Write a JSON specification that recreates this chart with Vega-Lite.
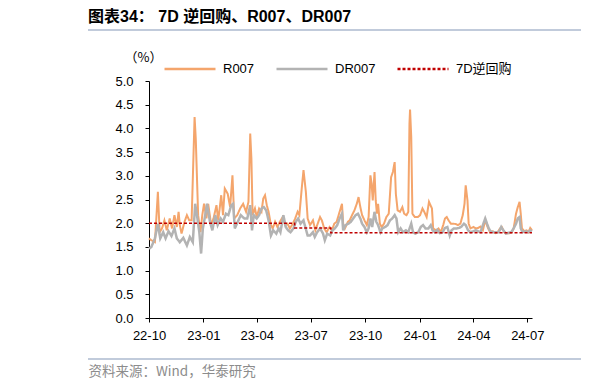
{
  "$schema": "https://vega.github.io/schema/vega-lite/v6.json",
  "autosize": {"type": "none"},
  "padding": {"left": 149, "top": 81, "right": 83, "bottom": 71},
  "width": 383,
  "height": 237,
  "background": "#ffffff",
  "config": {"view": {"stroke": null}, "font": "Liberation Sans"},
  "title": {
    "text": "图表34： 7D 逆回购、R007、DR007",
    "anchor": "start",
    "frame": "group",
    "dx": -61,
    "offset": 4,
    "font": "Liberation Sans, Noto Sans CJK SC",
    "fontSize": 16,
    "fontWeight": "bold",
    "color": "#000000"
  },
  "datasets": {
    "rates": [
      {"s":"R007","d":"2022-10-01","v":1.68},{"s":"R007","d":"2022-10-05","v":1.64},{"s":"R007","d":"2022-10-11","v":1.60},{"s":"R007","d":"2022-10-16","v":2.66},{"s":"R007","d":"2022-10-19","v":1.81},{"s":"R007","d":"2022-10-23","v":1.89},{"s":"R007","d":"2022-10-27","v":2.06},{"s":"R007","d":"2022-10-31","v":1.85},{"s":"R007","d":"2022-11-05","v":2.10},{"s":"R007","d":"2022-11-09","v":1.89},{"s":"R007","d":"2022-11-13","v":2.17},{"s":"R007","d":"2022-11-17","v":1.92},{"s":"R007","d":"2022-11-20","v":2.24},{"s":"R007","d":"2022-11-22","v":1.96},{"s":"R007","d":"2022-11-25","v":1.78},{"s":"R007","d":"2022-11-30","v":2.03},{"s":"R007","d":"2022-12-04","v":2.17},{"s":"R007","d":"2022-12-08","v":2.06},{"s":"R007","d":"2022-12-12","v":2.06},{"s":"R007","d":"2022-12-17","v":4.24},{"s":"R007","d":"2022-12-19","v":3.78},{"s":"R007","d":"2022-12-23","v":2.17},{"s":"R007","d":"2022-12-27","v":1.81},{"s":"R007","d":"2022-12-30","v":2.17},{"s":"R007","d":"2023-01-02","v":2.41},{"s":"R007","d":"2023-01-06","v":2.10},{"s":"R007","d":"2023-01-09","v":2.41},{"s":"R007","d":"2023-01-14","v":1.96},{"s":"R007","d":"2023-01-18","v":2.10},{"s":"R007","d":"2023-01-23","v":2.38},{"s":"R007","d":"2023-01-26","v":2.06},{"s":"R007","d":"2023-01-31","v":2.59},{"s":"R007","d":"2023-02-03","v":2.17},{"s":"R007","d":"2023-02-06","v":2.73},{"s":"R007","d":"2023-02-11","v":2.62},{"s":"R007","d":"2023-02-15","v":2.34},{"s":"R007","d":"2023-02-19","v":3.01},{"s":"R007","d":"2023-02-22","v":2.10},{"s":"R007","d":"2023-02-27","v":2.17},{"s":"R007","d":"2023-03-04","v":2.31},{"s":"R007","d":"2023-03-09","v":2.41},{"s":"R007","d":"2023-03-14","v":2.24},{"s":"R007","d":"2023-03-18","v":2.45},{"s":"R007","d":"2023-03-21","v":3.89},{"s":"R007","d":"2023-03-23","v":3.36},{"s":"R007","d":"2023-03-25","v":2.17},{"s":"R007","d":"2023-03-29","v":2.31},{"s":"R007","d":"2023-04-01","v":2.13},{"s":"R007","d":"2023-04-05","v":2.31},{"s":"R007","d":"2023-04-09","v":2.24},{"s":"R007","d":"2023-04-12","v":2.52},{"s":"R007","d":"2023-04-15","v":2.59},{"s":"R007","d":"2023-04-18","v":2.38},{"s":"R007","d":"2023-04-21","v":2.24},{"s":"R007","d":"2023-04-25","v":1.96},{"s":"R007","d":"2023-04-28","v":1.89},{"s":"R007","d":"2023-05-02","v":2.03},{"s":"R007","d":"2023-05-06","v":1.92},{"s":"R007","d":"2023-05-10","v":2.03},{"s":"R007","d":"2023-05-15","v":2.13},{"s":"R007","d":"2023-05-19","v":1.96},{"s":"R007","d":"2023-05-23","v":1.99},{"s":"R007","d":"2023-05-27","v":1.89},{"s":"R007","d":"2023-06-01","v":1.99},{"s":"R007","d":"2023-06-05","v":2.10},{"s":"R007","d":"2023-06-09","v":2.24},{"s":"R007","d":"2023-06-12","v":2.17},{"s":"R007","d":"2023-06-16","v":2.73},{"s":"R007","d":"2023-06-19","v":3.12},{"s":"R007","d":"2023-06-23","v":2.66},{"s":"R007","d":"2023-06-26","v":2.10},{"s":"R007","d":"2023-06-30","v":1.96},{"s":"R007","d":"2023-07-05","v":2.06},{"s":"R007","d":"2023-07-09","v":1.85},{"s":"R007","d":"2023-07-13","v":1.99},{"s":"R007","d":"2023-07-17","v":2.13},{"s":"R007","d":"2023-07-20","v":2.06},{"s":"R007","d":"2023-07-24","v":1.89},{"s":"R007","d":"2023-07-28","v":1.81},{"s":"R007","d":"2023-08-02","v":1.92},{"s":"R007","d":"2023-08-06","v":1.85},{"s":"R007","d":"2023-08-10","v":1.99},{"s":"R007","d":"2023-08-14","v":2.03},{"s":"R007","d":"2023-08-19","v":2.24},{"s":"R007","d":"2023-08-23","v":2.41},{"s":"R007","d":"2023-08-25","v":1.99},{"s":"R007","d":"2023-08-28","v":1.89},{"s":"R007","d":"2023-09-02","v":2.03},{"s":"R007","d":"2023-09-05","v":2.06},{"s":"R007","d":"2023-09-09","v":2.17},{"s":"R007","d":"2023-09-13","v":2.27},{"s":"R007","d":"2023-09-17","v":2.41},{"s":"R007","d":"2023-09-20","v":2.55},{"s":"R007","d":"2023-09-23","v":2.34},{"s":"R007","d":"2023-09-26","v":2.17},{"s":"R007","d":"2023-09-30","v":2.06},{"s":"R007","d":"2023-10-04","v":1.96},{"s":"R007","d":"2023-10-07","v":2.13},{"s":"R007","d":"2023-10-10","v":3.01},{"s":"R007","d":"2023-10-12","v":2.84},{"s":"R007","d":"2023-10-14","v":2.48},{"s":"R007","d":"2023-10-17","v":3.08},{"s":"R007","d":"2023-10-19","v":2.48},{"s":"R007","d":"2023-10-21","v":2.20},{"s":"R007","d":"2023-10-23","v":2.41},{"s":"R007","d":"2023-10-26","v":1.99},{"s":"R007","d":"2023-10-29","v":1.92},{"s":"R007","d":"2023-11-02","v":1.99},{"s":"R007","d":"2023-11-06","v":2.13},{"s":"R007","d":"2023-11-10","v":2.20},{"s":"R007","d":"2023-11-14","v":2.97},{"s":"R007","d":"2023-11-17","v":3.08},{"s":"R007","d":"2023-11-20","v":3.29},{"s":"R007","d":"2023-11-22","v":2.62},{"s":"R007","d":"2023-11-25","v":2.27},{"s":"R007","d":"2023-11-29","v":2.24},{"s":"R007","d":"2023-12-03","v":2.34},{"s":"R007","d":"2023-12-06","v":2.20},{"s":"R007","d":"2023-12-10","v":2.17},{"s":"R007","d":"2023-12-13","v":2.24},{"s":"R007","d":"2023-12-15","v":4.10},{"s":"R007","d":"2023-12-16","v":4.40},{"s":"R007","d":"2023-12-18","v":3.82},{"s":"R007","d":"2023-12-20","v":2.20},{"s":"R007","d":"2023-12-24","v":2.13},{"s":"R007","d":"2023-12-29","v":2.13},{"s":"R007","d":"2024-01-02","v":2.17},{"s":"R007","d":"2024-01-06","v":2.31},{"s":"R007","d":"2024-01-09","v":2.24},{"s":"R007","d":"2024-01-13","v":2.13},{"s":"R007","d":"2024-01-17","v":2.45},{"s":"R007","d":"2024-01-22","v":2.31},{"s":"R007","d":"2024-01-24","v":1.89},{"s":"R007","d":"2024-01-29","v":1.85},{"s":"R007","d":"2024-02-02","v":1.89},{"s":"R007","d":"2024-02-06","v":1.81},{"s":"R007","d":"2024-02-10","v":1.96},{"s":"R007","d":"2024-02-13","v":2.10},{"s":"R007","d":"2024-02-16","v":2.13},{"s":"R007","d":"2024-02-19","v":2.06},{"s":"R007","d":"2024-02-23","v":1.99},{"s":"R007","d":"2024-02-27","v":1.99},{"s":"R007","d":"2024-03-03","v":1.98},{"s":"R007","d":"2024-03-06","v":1.96},{"s":"R007","d":"2024-03-10","v":1.99},{"s":"R007","d":"2024-03-14","v":2.17},{"s":"R007","d":"2024-03-17","v":2.41},{"s":"R007","d":"2024-03-19","v":2.80},{"s":"R007","d":"2024-03-22","v":2.48},{"s":"R007","d":"2024-03-24","v":1.99},{"s":"R007","d":"2024-03-27","v":1.89},{"s":"R007","d":"2024-04-01","v":1.92},{"s":"R007","d":"2024-04-05","v":1.89},{"s":"R007","d":"2024-04-09","v":1.90},{"s":"R007","d":"2024-04-13","v":1.93},{"s":"R007","d":"2024-04-17","v":1.85},{"s":"R007","d":"2024-04-21","v":2.06},{"s":"R007","d":"2024-04-25","v":1.92},{"s":"R007","d":"2024-04-29","v":1.81},{"s":"R007","d":"2024-05-04","v":1.83},{"s":"R007","d":"2024-05-08","v":1.79},{"s":"R007","d":"2024-05-12","v":1.81},{"s":"R007","d":"2024-05-16","v":1.89},{"s":"R007","d":"2024-05-19","v":1.92},{"s":"R007","d":"2024-05-23","v":1.81},{"s":"R007","d":"2024-05-27","v":1.79},{"s":"R007","d":"2024-06-01","v":1.79},{"s":"R007","d":"2024-06-05","v":1.81},{"s":"R007","d":"2024-06-08","v":1.89},{"s":"R007","d":"2024-06-12","v":2.20},{"s":"R007","d":"2024-06-15","v":2.34},{"s":"R007","d":"2024-06-18","v":2.45},{"s":"R007","d":"2024-06-20","v":2.20},{"s":"R007","d":"2024-06-22","v":1.89},{"s":"R007","d":"2024-06-26","v":1.83},{"s":"R007","d":"2024-06-30","v":1.85},{"s":"R007","d":"2024-07-03","v":1.81},{"s":"R007","d":"2024-07-06","v":1.90},{"s":"R007","d":"2024-07-09","v":1.85},
      {"s":"DR007","d":"2022-10-01","v":1.46},{"s":"DR007","d":"2022-10-05","v":1.50},{"s":"DR007","d":"2022-10-11","v":1.68},{"s":"DR007","d":"2022-10-16","v":1.99},{"s":"DR007","d":"2022-10-20","v":1.68},{"s":"DR007","d":"2022-10-25","v":1.81},{"s":"DR007","d":"2022-10-29","v":1.68},{"s":"DR007","d":"2022-11-03","v":1.83},{"s":"DR007","d":"2022-11-08","v":1.73},{"s":"DR007","d":"2022-11-13","v":1.89},{"s":"DR007","d":"2022-11-17","v":1.68},{"s":"DR007","d":"2022-11-22","v":1.60},{"s":"DR007","d":"2022-11-28","v":1.69},{"s":"DR007","d":"2022-12-04","v":1.53},{"s":"DR007","d":"2022-12-09","v":1.71},{"s":"DR007","d":"2022-12-14","v":1.60},{"s":"DR007","d":"2022-12-18","v":2.41},{"s":"DR007","d":"2022-12-21","v":2.17},{"s":"DR007","d":"2022-12-25","v":1.81},{"s":"DR007","d":"2022-12-28","v":1.36},{"s":"DR007","d":"2022-12-31","v":1.89},{"s":"DR007","d":"2023-01-04","v":2.17},{"s":"DR007","d":"2023-01-07","v":2.41},{"s":"DR007","d":"2023-01-12","v":2.03},{"s":"DR007","d":"2023-01-16","v":1.85},{"s":"DR007","d":"2023-01-21","v":2.17},{"s":"DR007","d":"2023-01-25","v":1.96},{"s":"DR007","d":"2023-01-30","v":2.10},{"s":"DR007","d":"2023-02-03","v":2.03},{"s":"DR007","d":"2023-02-08","v":2.20},{"s":"DR007","d":"2023-02-12","v":2.17},{"s":"DR007","d":"2023-02-17","v":2.38},{"s":"DR007","d":"2023-02-20","v":2.41},{"s":"DR007","d":"2023-02-23","v":1.89},{"s":"DR007","d":"2023-02-28","v":2.03},{"s":"DR007","d":"2023-03-05","v":2.17},{"s":"DR007","d":"2023-03-11","v":2.10},{"s":"DR007","d":"2023-03-16","v":2.10},{"s":"DR007","d":"2023-03-21","v":2.38},{"s":"DR007","d":"2023-03-24","v":1.85},{"s":"DR007","d":"2023-03-27","v":2.17},{"s":"DR007","d":"2023-04-01","v":2.10},{"s":"DR007","d":"2023-04-05","v":2.17},{"s":"DR007","d":"2023-04-09","v":2.31},{"s":"DR007","d":"2023-04-13","v":2.34},{"s":"DR007","d":"2023-04-17","v":2.27},{"s":"DR007","d":"2023-04-21","v":2.06},{"s":"DR007","d":"2023-04-25","v":1.74},{"s":"DR007","d":"2023-04-29","v":1.85},{"s":"DR007","d":"2023-05-04","v":1.78},{"s":"DR007","d":"2023-05-08","v":1.89},{"s":"DR007","d":"2023-05-11","v":1.81},{"s":"DR007","d":"2023-05-16","v":2.17},{"s":"DR007","d":"2023-05-20","v":1.92},{"s":"DR007","d":"2023-05-24","v":1.85},{"s":"DR007","d":"2023-05-28","v":1.81},{"s":"DR007","d":"2023-06-02","v":1.89},{"s":"DR007","d":"2023-06-06","v":2.03},{"s":"DR007","d":"2023-06-10","v":2.10},{"s":"DR007","d":"2023-06-14","v":1.99},{"s":"DR007","d":"2023-06-19","v":2.06},{"s":"DR007","d":"2023-06-22","v":1.92},{"s":"DR007","d":"2023-06-26","v":1.74},{"s":"DR007","d":"2023-06-30","v":1.74},{"s":"DR007","d":"2023-07-05","v":1.81},{"s":"DR007","d":"2023-07-08","v":1.71},{"s":"DR007","d":"2023-07-12","v":1.81},{"s":"DR007","d":"2023-07-17","v":1.89},{"s":"DR007","d":"2023-07-22","v":1.78},{"s":"DR007","d":"2023-07-25","v":1.64},{"s":"DR007","d":"2023-07-29","v":1.78},{"s":"DR007","d":"2023-08-03","v":1.74},{"s":"DR007","d":"2023-08-07","v":1.85},{"s":"DR007","d":"2023-08-11","v":1.89},{"s":"DR007","d":"2023-08-15","v":1.96},{"s":"DR007","d":"2023-08-19","v":2.10},{"s":"DR007","d":"2023-08-23","v":2.20},{"s":"DR007","d":"2023-08-25","v":1.85},{"s":"DR007","d":"2023-08-29","v":1.96},{"s":"DR007","d":"2023-09-03","v":1.99},{"s":"DR007","d":"2023-09-07","v":2.03},{"s":"DR007","d":"2023-09-11","v":2.10},{"s":"DR007","d":"2023-09-15","v":2.17},{"s":"DR007","d":"2023-09-19","v":2.20},{"s":"DR007","d":"2023-09-23","v":2.10},{"s":"DR007","d":"2023-09-26","v":1.99},{"s":"DR007","d":"2023-09-30","v":1.92},{"s":"DR007","d":"2023-10-04","v":1.81},{"s":"DR007","d":"2023-10-07","v":1.89},{"s":"DR007","d":"2023-10-10","v":2.10},{"s":"DR007","d":"2023-10-13","v":1.92},{"s":"DR007","d":"2023-10-17","v":2.24},{"s":"DR007","d":"2023-10-20","v":2.03},{"s":"DR007","d":"2023-10-23","v":1.96},{"s":"DR007","d":"2023-10-27","v":1.81},{"s":"DR007","d":"2023-10-30","v":1.89},{"s":"DR007","d":"2023-11-04","v":1.92},{"s":"DR007","d":"2023-11-08","v":1.96},{"s":"DR007","d":"2023-11-12","v":2.06},{"s":"DR007","d":"2023-11-16","v":2.10},{"s":"DR007","d":"2023-11-20","v":2.17},{"s":"DR007","d":"2023-11-23","v":2.10},{"s":"DR007","d":"2023-11-26","v":1.81},{"s":"DR007","d":"2023-11-30","v":1.89},{"s":"DR007","d":"2023-12-04","v":1.81},{"s":"DR007","d":"2023-12-09","v":1.85},{"s":"DR007","d":"2023-12-13","v":1.81},{"s":"DR007","d":"2023-12-18","v":1.99},{"s":"DR007","d":"2023-12-21","v":1.81},{"s":"DR007","d":"2023-12-25","v":1.78},{"s":"DR007","d":"2023-12-30","v":1.81},{"s":"DR007","d":"2024-01-03","v":1.92},{"s":"DR007","d":"2024-01-07","v":1.96},{"s":"DR007","d":"2024-01-11","v":1.89},{"s":"DR007","d":"2024-01-16","v":1.89},{"s":"DR007","d":"2024-01-20","v":1.96},{"s":"DR007","d":"2024-01-23","v":1.85},{"s":"DR007","d":"2024-01-27","v":1.81},{"s":"DR007","d":"2024-01-31","v":1.86},{"s":"DR007","d":"2024-02-04","v":1.79},{"s":"DR007","d":"2024-02-09","v":1.81},{"s":"DR007","d":"2024-02-13","v":1.90},{"s":"DR007","d":"2024-02-17","v":1.92},{"s":"DR007","d":"2024-02-21","v":1.74},{"s":"DR007","d":"2024-02-24","v":1.85},{"s":"DR007","d":"2024-02-28","v":1.89},{"s":"DR007","d":"2024-03-04","v":1.89},{"s":"DR007","d":"2024-03-08","v":1.90},{"s":"DR007","d":"2024-03-12","v":1.93},{"s":"DR007","d":"2024-03-16","v":1.99},{"s":"DR007","d":"2024-03-19","v":1.96},{"s":"DR007","d":"2024-03-23","v":1.85},{"s":"DR007","d":"2024-03-27","v":1.81},{"s":"DR007","d":"2024-04-01","v":1.83},{"s":"DR007","d":"2024-04-05","v":1.85},{"s":"DR007","d":"2024-04-09","v":1.83},{"s":"DR007","d":"2024-04-13","v":1.81},{"s":"DR007","d":"2024-04-17","v":1.96},{"s":"DR007","d":"2024-04-21","v":2.10},{"s":"DR007","d":"2024-04-24","v":1.99},{"s":"DR007","d":"2024-04-27","v":1.89},{"s":"DR007","d":"2024-04-30","v":1.83},{"s":"DR007","d":"2024-05-05","v":1.81},{"s":"DR007","d":"2024-05-09","v":1.81},{"s":"DR007","d":"2024-05-14","v":1.81},{"s":"DR007","d":"2024-05-18","v":1.92},{"s":"DR007","d":"2024-05-21","v":1.86},{"s":"DR007","d":"2024-05-26","v":1.78},{"s":"DR007","d":"2024-05-31","v":1.80},{"s":"DR007","d":"2024-06-04","v":1.81},{"s":"DR007","d":"2024-06-08","v":1.89},{"s":"DR007","d":"2024-06-12","v":1.99},{"s":"DR007","d":"2024-06-15","v":2.10},{"s":"DR007","d":"2024-06-18","v":2.13},{"s":"DR007","d":"2024-06-20","v":1.89},{"s":"DR007","d":"2024-06-23","v":1.81},{"s":"DR007","d":"2024-06-28","v":1.83},{"s":"DR007","d":"2024-07-02","v":1.81},{"s":"DR007","d":"2024-07-06","v":1.85},{"s":"DR007","d":"2024-07-09","v":1.83},
      {"s":"7D逆回购","d":"2022-10-01","v":2.0},{"s":"7D逆回购","d":"2023-06-04","v":1.9},{"s":"7D逆回购","d":"2023-08-04","v":1.8},{"s":"7D逆回购","d":"2024-07-09","v":1.8}
    ]
  },
  "encoding": {
    "x": {
      "field": "d", "type": "temporal",
      "scale": {"type": "utc", "domain": [{"year": 2022, "month": 10, "date": 1, "utc": true}, {"year": 2024, "month": 7, "date": 9, "utc": true}], "nice": false},
      "axis": {
        "values": [
          {"year": 2022, "month": 10, "date": 1, "utc": true},
          {"year": 2023, "month": 1, "date": 1, "utc": true},
          {"year": 2023, "month": 4, "date": 1, "utc": true},
          {"year": 2023, "month": 7, "date": 1, "utc": true},
          {"year": 2023, "month": 10, "date": 1, "utc": true},
          {"year": 2024, "month": 1, "date": 1, "utc": true},
          {"year": 2024, "month": 4, "date": 1, "utc": true},
          {"year": 2024, "month": 7, "date": 1, "utc": true}
        ],
        "format": "%y-%m",
        "grid": false,
        "labelFont": "Liberation Sans",
        "labelFontSize": 13,
        "labelColor": "#000000",
        "labelPadding": 7,
        "labelFlush": false,
        "labelOverlap": false,
        "tickSize": 4,
        "tickColor": "#000000",
        "domainColor": "#000000",
        "title": "资料来源：Wind，华泰研究",
        "titleAnchor": "start",
        "titleAlign": "left",
        "titleX": -61,
        "titleY": 53,
        "titleBaseline": "middle",
        "titleFont": "Noto Sans CJK SC",
        "titleFontSize": 13.5,
        "titleFontWeight": "normal",
        "titleColor": "#8C8C8C"
      }
    },
    "y": {
      "field": "v", "type": "quantitative",
      "scale": {"domain": [0, 5], "nice": false, "zero": true},
      "axis": {
        "values": [0, 0.5, 1, 1.5, 2, 2.5, 3, 3.5, 4, 4.5, 5],
        "format": ".1f",
        "grid": false,
        "labelFont": "Liberation Sans",
        "labelFontSize": 13,
        "labelColor": "#000000",
        "labelPadding": 12,
        "tickSize": 4,
        "tickColor": "#000000",
        "domainColor": "#000000",
        "title": "（%）",
        "titleAngle": 0,
        "titleX": -6,
        "titleY": -24,
        "titleAlign": "center",
        "titleBaseline": "middle",
        "titleFont": "Noto Sans CJK SC",
        "titleFontSize": 13,
        "titleFontWeight": "normal",
        "titleColor": "#000000"
      }
    },
    "color": {
      "field": "s", "type": "nominal",
      "scale": {"domain": ["R007", "DR007", "7D逆回购"], "range": ["#F4A56C", "#B3B3B3", "#C00000"]},
      "legend": {
        "title": null,
        "orient": "none",
        "direction": "horizontal",
        "legendX": 14,
        "legendY": -39,
        "padding": 0,
        "symbolType": "stroke",
        "symbolSize": 2601,
        "symbolStrokeWidth": 2.5,
        "labelFont": "Liberation Sans, Noto Sans CJK SC",
        "labelFontSize": 13,
        "labelColor": "#000000",
        "labelOffset": 6,
        "columnPadding": 16
      }
    },
    "strokeDash": {
      "field": "s", "type": "nominal",
      "scale": {"domain": ["R007", "DR007", "7D逆回购"], "range": [[1, 0], [1, 0], [3, 2]]},
      "legend": null
    }
  },
  "layer": [
    {
      "data": {"name": "rates"},
      "transform": [{"filter": "datum.s === 'R007'"}],
      "mark": {"type": "line", "strokeWidth": 2}
    },
    {
      "data": {"name": "rates"},
      "transform": [{"filter": "datum.s === 'DR007'"}],
      "mark": {"type": "line", "strokeWidth": 2.5}
    },
    {
      "data": {"name": "rates"},
      "transform": [{"filter": "datum.s === '7D逆回购'"}],
      "mark": {"type": "line", "strokeWidth": 1.6, "interpolate": "step-after"}
    },
    {
      "data": {"values": [{"part": "title rule"}]},
      "mark": {"type": "rule", "color": "#8497B8", "strokeWidth": 1.2},
      "encoding": {
        "x": {"value": -61},
        "x2": {"value": 432},
        "y": {"value": -51},
        "color": {"value": "#8497B8"},
        "strokeDash": {"value": [1, 0]}
      }
    },
    {
      "data": {"values": [{"part": "source rule"}]},
      "mark": {"type": "rule", "color": "#8497B8", "strokeWidth": 1.2},
      "encoding": {
        "x": {"value": -61},
        "x2": {"value": 432},
        "y": {"value": 278},
        "color": {"value": "#8497B8"},
        "strokeDash": {"value": [1, 0]}
      }
    }
  ]
}
